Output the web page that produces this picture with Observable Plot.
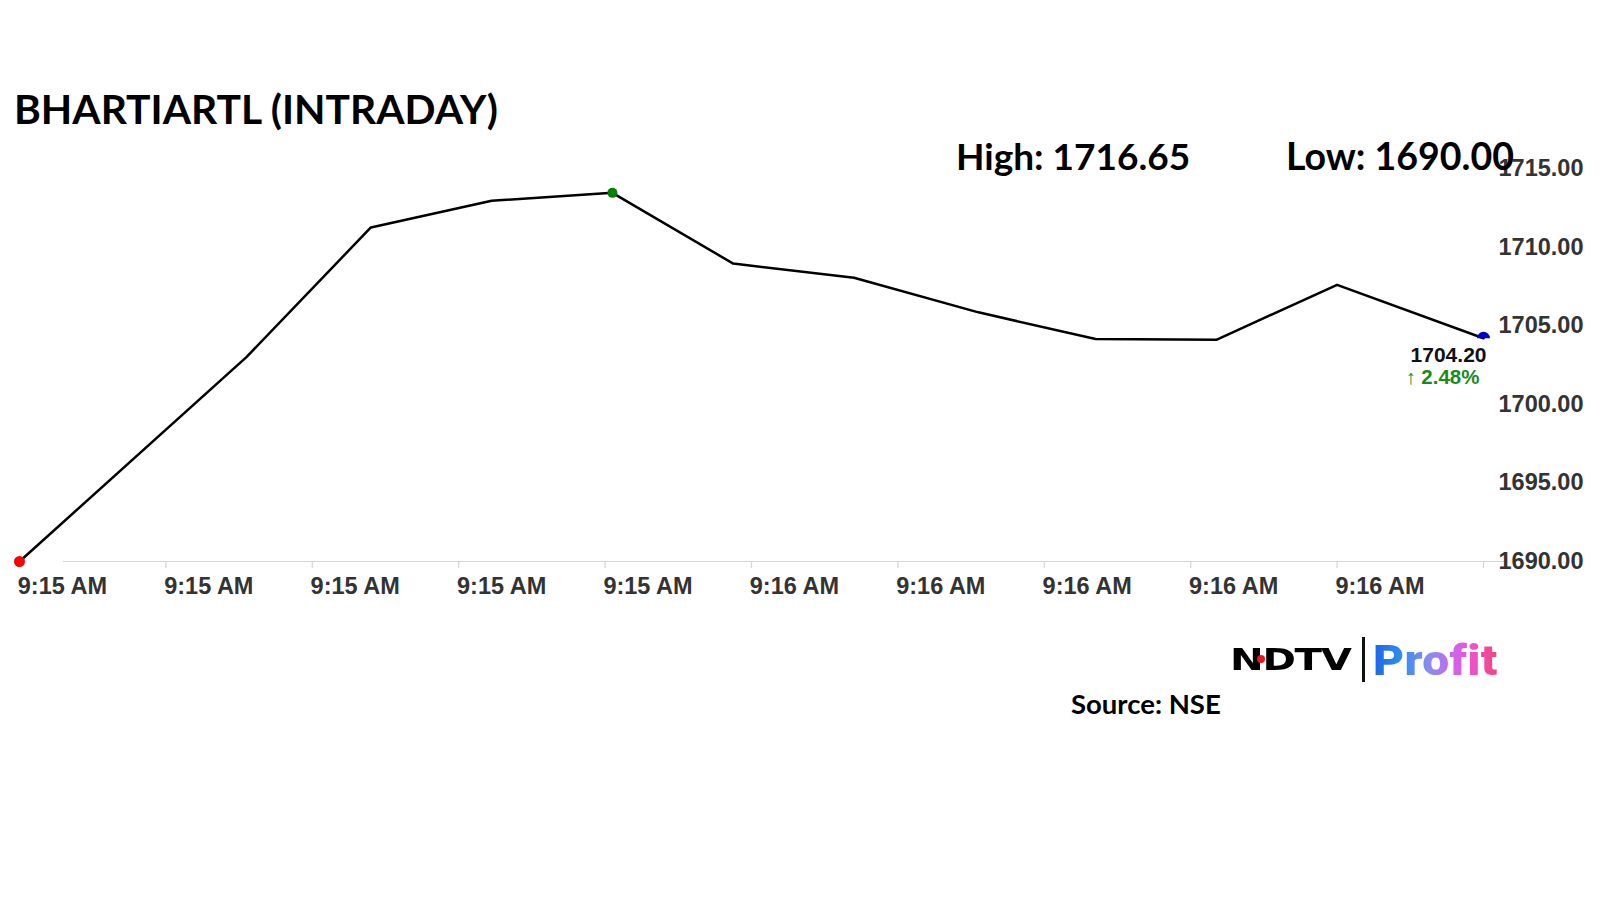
<!DOCTYPE html>
<html>
<head>
<meta charset="utf-8">
<script src="https://cdn.jsdelivr.net/npm/d3@7"></script>
<script src="https://cdn.jsdelivr.net/npm/@observablehq/plot@0.6"></script>
<style>
  html, body { margin: 0; padding: 0; background: #fff; }
  #wrap { position: relative; width: 1600px; height: 900px; overflow: hidden; background: #fff; }
  #chart { position: absolute; left: 0; top: 0; }
  .txt { position: absolute; white-space: nowrap; font-family: Lato, "Open Sans", sans-serif; font-weight: 700; color: #000; line-height: 1; }
  #title { left: 14px; top: 89px; font-size: 40.8px; }
  #high { left: 956px; top: 137px; font-size: 37px; }
  #low { left: 1286px; top: 137px; font-size: 37.5px; }
  #source { left: 1071px; top: 690px; font-size: 27.5px; }
  #ndtv { left: 1230px; top: 644px; font-family: "DejaVu Sans", sans-serif; font-weight: 700; font-size: 31px; letter-spacing: -1px; transform: scaleX(1.3); transform-origin: left top; }
  #ndot { position: absolute; left: 1257px; top: 655px; width: 8px; height: 8px; border-radius: 50%; background: #e8161b; }
  #bar { position: absolute; left: 1362px; top: 637px; width: 3px; height: 45px; background: #111; }
  #profit { left: 1373px; top: 639px; font-family: Roboto, "Open Sans", sans-serif; font-weight: 900; font-size: 43px; letter-spacing: 0.3px;
    transform: scaleX(1.115); transform-origin: left top;
    background: linear-gradient(90deg, #1a66e8 0%, #2f8cf2 22%, #8a8cf0 45%, #d85fe6 68%, #f24fc0 82%, #f0437c 100%);
    -webkit-background-clip: text; background-clip: text; color: transparent; }
</style>
</head>
<body>
<div id="wrap">
  <div id="chart"></div>
  <div class="txt" id="title"></div>
  <div class="txt" id="high"></div>
  <div class="txt" id="low"></div>
  <div class="txt" id="ndtv">NDTV</div>
  <div id="ndot"></div>
  <div id="bar"></div>
  <div class="txt" id="profit">Profit</div>
  <div class="txt" id="source"></div>
</div>
<script>
// ---- data ----
const symbol = "BHARTIARTL";
const times = [7, 22.5, 31, 39.25, 47.5, 55.75, 64, 72.5, 80.5, 88.75, 97, 107]; // seconds after 9:15:00
const prices = [1690.00, 1703.00, 1711.25, 1712.95, 1713.45, 1708.95, 1708.05, 1705.85, 1704.15, 1704.10, 1707.60, 1704.20];
const xLabelTimes = [10, 20, 30, 40, 50, 60, 70, 80, 90, 100];
const xTickLabels = ["9:15 AM", "9:15 AM", "9:15 AM", "9:15 AM", "9:15 AM", "9:16 AM", "9:16 AM", "9:16 AM", "9:16 AM", "9:16 AM"];
const xTickTimes = [17, 27, 37, 47, 57, 67, 77, 87, 97, 107];
const yTicks = [1690, 1695, 1700, 1705, 1710, 1715];
const dayHigh = 1716.65;
const dayLow = 1690.00;
const lastPrice = 1704.20;
const changePct = 2.48;
const sourceText = "Source: NSE";

// ---- build ----
const data = times.map((t, i) => ({t, price: prices[i]}));
const first = data[0];
const last = data[data.length - 1];
const maxPt = data.reduce((a, b) => (b.price > a.price ? b : a));
const labels = xLabelTimes.map((t, i) => ({t, label: xTickLabels[i]}));

document.getElementById("title").textContent = `${symbol} (INTRADAY)`;
document.getElementById("high").textContent = `High: ${dayHigh.toFixed(2)}`;
document.getElementById("low").textContent = `Low: ${dayLow.toFixed(2)}`;
document.getElementById("source").textContent = sourceText;

const halfCircle = {
  draw(ctx, size) {
    const r = Math.sqrt(size / Math.PI);
    ctx.moveTo(-r, 0);
    ctx.arc(0, 0, r, Math.PI, 2 * Math.PI);
    ctx.closePath();
  }
};

const axisFont = "'Liberation Sans', Arial, sans-serif";

const chart = Plot.plot({
  width: 1600,
  height: 900,
  margin: 0,
  style: {background: "transparent", overflow: "visible"},
  x: {type: "linear", domain: [times[0], times[times.length - 1]], range: [19, 1483], axis: null},
  y: {domain: [yTicks[0], yTicks[yTicks.length - 1]], range: [561, 168], axis: null},
  marks: [
    // x axis line and ticks
    Plot.ruleY([yTicks[0]], {x1: xLabelTimes[0], x2: last.t + 1.5, stroke: "#d6d6d6", strokeWidth: 1.2}),
    Plot.ruleX(xTickTimes, {y1: yTicks[0], y2: yTicks[0] - 0.45, stroke: "#d6d6d6", strokeWidth: 1.2}),
    // x labels
    Plot.text(labels, {x: "t", y: () => yTicks[0], text: "label", dy: 25, dx: -1, lineAnchor: "middle",
      fontFamily: axisFont, fontWeight: "bold", fontSize: 23.5, fill: "#333"}),
    // y labels (right)
    Plot.text(yTicks, {x: () => last.t, y: d => d, text: d => d.toFixed(2), dx: 15, textAnchor: "start", lineAnchor: "middle",
      fontFamily: axisFont, fontWeight: "bold", fontSize: 23.5, fill: "#333"}),
    // price line
    Plot.line(data, {x: "t", y: "price", stroke: "#000", strokeWidth: 2.5}),
    // markers
    Plot.dot([first], {x: "t", y: "price", r: 5.5, fill: "#f00", stroke: "none"}),
    Plot.dot([maxPt], {x: "t", y: "price", r: 5, fill: "#008000", stroke: "none"}),
    Plot.dot([last], {x: "t", y: "price", r: 6.5, symbol: halfCircle, fill: "#0000cc", stroke: "none"}),
    // last price label
    Plot.text([last], {x: "t", y: "price", text: () => lastPrice.toFixed(2), dx: 3, dy: 17, textAnchor: "end", lineAnchor: "middle",
      fontFamily: axisFont, fontWeight: "bold", fontSize: 21, fill: "#111"}),
    Plot.text([last], {x: "t", y: "price", text: () => `\u2191 ${changePct.toFixed(2)}%`, dx: -4, dy: 39, textAnchor: "end", lineAnchor: "middle",
      fontFamily: axisFont, fontWeight: "bold", fontSize: 20.5, fill: "#1a8a1a"})
  ]
});
document.getElementById("chart").appendChild(chart);
</script>
</body>
</html>
